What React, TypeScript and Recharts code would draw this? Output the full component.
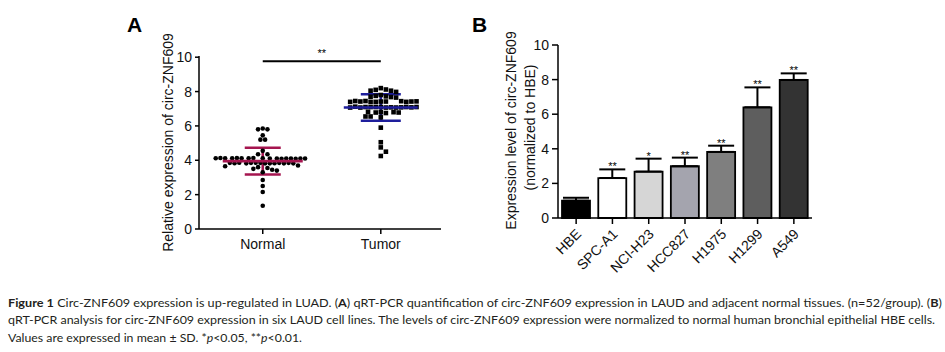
import React from "react";
import {
  ScatterChart,
  ComposedChart,
  Scatter,
  Bar,
  Cell,
  ErrorBar,
  XAxis,
  YAxis,
  ReferenceLine,
} from "recharts";

// ---- Panel A: tissue samples (n=52/group)
const groups = ["Normal", "Tumor"];
const normalValues = [
  5.85, 5.8, 5.8, 5.45, 5.2, 5.2, 4.55, 4.35, 4.35,
  4.12, 4.1, 4.13, 4.1, 4.12, 4.09, 4.12, 4.1, 4.13, 4.1, 4.12, 4.09, 4.12, 4.1, 4.13, 4.1, 4.12,
  3.85, 3.82, 3.86, 3.82, 3.85, 3.83, 3.85, 3.82, 3.86, 3.82, 3.85, 3.83, 3.85, 3.82,
  3.7, 3.3, 3.6, 3.55, 3.5, 3.45, 3.65, 3.4,
  2.85, 2.5, 2.15, 1.35,
];
const tumorValues = [
  8.2, 8.12, 8.1, 8.05, 8.05, 7.98, 7.8, 7.75, 7.72, 7.68, 7.7, 7.65,
  7.42, 7.4, 7.45, 7.42, 7.4, 7.44, 7.42, 7.4, 7.45, 7.42, 7.4, 7.43,
  7.1, 7.07, 7.1, 7.08, 7.1, 7.07, 7.1, 7.08, 7.07, 7.1, 7.12, 7.08, 7.07, 7.1,
  6.8, 6.78, 6.82, 6.75, 6.8, 6.78, 6.55, 6.5, 6.55,
  5.9, 5.05, 4.75, 4.5, 4.25,
];
const groupMeans = [3.95, 7.07];
const groupSDs = [0.78, 0.77];
const sigA = "**";
const sigALevel = 9.77;
const yTicks = [0, 2, 4, 6, 8, 10];

// ---- Panel B: cell lines
const cellLines = ["HBE", "SPC-A1", "NCI-H23", "HCC827", "H1975", "H1299", "A549"];
const cellMeans = [1.0, 2.31, 2.68, 2.99, 3.82, 6.4, 7.98];
const cellSDs = [0.17, 0.5, 0.75, 0.5, 0.36, 1.15, 0.38];
const cellSig = ["", "**", "*", "**", "**", "**", "**"];

const barColors = ["#000000", "#ffffff", "#d6d6d6", "#a4a4ae", "#7f7f7f", "#5e5e5e", "#333333"];
const groupColors = ["#a5154f", "#1e1e9c"];
const meanHalfPx = [40, 37];
const capWidthPx = [18, 20];
const FONT = '"Liberation Sans", Arial, sans-serif';
const CAPTION_FONT = 'Lato, "Open Sans", sans-serif';

// plot scale of panel A (px per data unit) for the swarm layout
const PX_X = 118;
const PX_Y = 17.3;

// column-scatter layout: each point goes to the nearest free slot, balancing sides
function swarm(values: number[], dot: number) {
  const placed: { x: number; y: number }[] = [];
  const step = dot / 2;
  return values.map((v) => {
    const py = v * PX_Y;
    const near = placed.filter((p) => Math.abs(p.y - py) < dot);
    const right = near.filter((p) => p.x > 0).length;
    const left = near.filter((p) => p.x < 0).length;
    const first = right <= left ? 1 : -1;
    for (let k = 0; k < 100; k++) {
      const signs = k === 0 ? [0] : [first, -first];
      for (const sg of signs) {
        const off = sg * k * step;
        if (!placed.some((p) => Math.hypot(p.x - off, p.y - py) < dot)) {
          placed.push({ x: off, y: py });
          return off / PX_X;
        }
      }
    }
    return 0;
  });
}

const normalOff = swarm(normalValues, 4.7);
const tumorOff = swarm(tumorValues, 5.1);
const normalPts = normalValues.map((v, i) => ({ x: 1 + normalOff[i], y: v }));
const tumorPts = tumorValues.map((v, i) => ({ x: 2 + tumorOff[i], y: v }));
const summary = groups.map((g, i) => ({ x: i + 1, y: groupMeans[i], sd: groupSDs[i] }));

const barData = cellLines.map((name, i) => ({
  name,
  mean: cellMeans[i],
  err: [0, cellSDs[i]],
  sigY: cellMeans[i] + cellSDs[i],
  sig: cellSig[i],
}));

const axisTick = { fill: "#111", fontSize: 14, fontFamily: FONT };

const Circle = (p: any) => <circle cx={p.cx} cy={p.cy} r={2.3} fill="#000" />;
const Square = (p: any) => <rect x={p.cx - 2.3} y={p.cy - 2.3} width={4.6} height={4.6} fill="#000" />;
const Stars = (p: any) => (
  <text x={p.cx} y={p.cy + 1} textAnchor="middle" fontSize={11} fontFamily={FONT} fill="#000">
    {p.payload.sig}
  </text>
);
const meanShape = (i: number) => (p: any) => (
  <line x1={p.cx - meanHalfPx[i]} x2={p.cx + meanHalfPx[i]} y1={p.cy} y2={p.cy}
    stroke={groupColors[i]} strokeWidth={2.6} />
);

function PanelA() {
  return (
    <ScatterChart width={360} height={280} margin={{ top: 56, right: 19, left: 0, bottom: 0 }}>
      <XAxis
        type="number"
        dataKey="x"
        domain={[0.46, 2.51]}
        ticks={[1, 2]}
        allowDataOverflow
        tickFormatter={(v) => groups[v - 1]}
        height={51}
        tickSize={5}
        tickMargin={5}
        stroke="#000"
        strokeWidth={1.5}
        tick={axisTick}
      />
      <YAxis
        type="number"
        dataKey="y"
        domain={[0, 10]}
        ticks={yTicks}
        width={99}
        tickSize={4}
        tickMargin={3}
        stroke="#000"
        strokeWidth={1.5}
        tick={axisTick}
        label={(p: any) => {
          const vb = p.viewBox;
          const x = vb.x + 68;
          const y = vb.y + vb.height / 2;
          return (
            <text x={x} y={y} transform={`rotate(-90, ${x}, ${y})`} textAnchor="middle"
              dominantBaseline="central" fontSize={14} fontFamily={FONT} fill="#111">
              Relative expression of circ-ZNF609
            </text>
          );
        }}
      />
      <Scatter data={normalPts} shape={Circle} isAnimationActive={false} />
      <Scatter data={tumorPts} shape={Square} isAnimationActive={false} />
      {summary.map((s, i) => (
        <Scatter key={groups[i]} data={[s]} shape={meanShape(i)} isAnimationActive={false}>
          <ErrorBar dataKey="sd" direction="y" width={capWidthPx[i]} stroke={groupColors[i]} strokeWidth={2.6} />
        </Scatter>
      ))}
      <ReferenceLine segment={[{ x: 1, y: sigALevel }, { x: 2, y: sigALevel }]} stroke="#000" strokeWidth={2} />
      <Scatter data={[{ x: 1.5, y: sigALevel + 0.3, sig: sigA }]} shape={Stars} isAnimationActive={false} />
    </ScatterChart>
  );
}

const RotTick = (p: any) => {
  const x = p.x + 6;
  const y = p.y + 9;
  return (
    <text x={x} y={y} transform={`rotate(-45, ${x}, ${y})`} textAnchor="end" fontSize={14}
      fontFamily={FONT} fill="#111">
      {p.payload.value}
    </text>
  );
};

function PanelB() {
  return (
    <ComposedChart width={360} height={290} data={barData} margin={{ top: 45, right: 18, left: 0, bottom: 0 }}>
      <XAxis dataKey="name" type="category" height={72} tickSize={6} tickMargin={2} interval={0}
        stroke="#000" strokeWidth={1.5} tick={<RotTick />} />
      <YAxis
        type="number"
        domain={[0, 10]}
        ticks={yTicks}
        width={88}
        tickSize={6}
        tickMargin={3}
        stroke="#000"
        strokeWidth={1.5}
        tick={axisTick}
        label={(p: any) => {
          const vb = p.viewBox;
          const y = vb.y + vb.height / 2;
          const x1 = vb.x + 41;
          const x2 = vb.x + 60;
          return (
            <g>
              <text x={x1} y={y - 1} transform={`rotate(-90, ${x1}, ${y - 1})`} textAnchor="middle"
                dominantBaseline="central" fontSize={14} fontFamily={FONT} fill="#111">
                Expression level of circ-ZNF609
              </text>
              <text x={x2} y={y - 4} transform={`rotate(-90, ${x2}, ${y - 4})`} textAnchor="middle"
                dominantBaseline="central" fontSize={14} fontFamily={FONT} fill="#111">
                (normalized to HBE)
              </text>
            </g>
          );
        }}
      />
      <Bar dataKey="mean" barSize={28} stroke="#000" strokeWidth={1.8} isAnimationActive={false}>
        {barData.map((d, i) => (
          <Cell key={d.name} fill={barColors[i]} />
        ))}
        <ErrorBar dataKey="err" width={13} strokeWidth={2} stroke="#000" direction="y" />
      </Bar>
      <Scatter dataKey="sigY" shape={Stars} isAnimationActive={false} />
    </ComposedChart>
  );
}

export default function App() {
  return (
    <div style={{ position: "absolute", left: 0, top: 0, width: 945, height: 352, background: "#fff", overflow: "hidden" }}>
      <div style={{ position: "absolute", left: 127, top: 13, fontFamily: FONT, fontWeight: "bold", fontSize: 21 }}>A</div>
      <div style={{ position: "absolute", left: 472, top: 13, fontFamily: FONT, fontWeight: "bold", fontSize: 21 }}>B</div>
      <div style={{ position: "absolute", left: 100, top: 0 }}>
        <PanelA />
      </div>
      <div style={{ position: "absolute", left: 470, top: 0 }}>
        <PanelB />
      </div>
      <svg style={{ position: "absolute", left: 0, top: 288 }} width={945} height={64}>
        <g fontFamily={CAPTION_FONT} fontSize={12} fill="#231f20">
          <text x={8} y={19} textLength={934} lengthAdjust="spacingAndGlyphs">
            <tspan fontWeight="bold">Figure 1</tspan> Circ-ZNF609 expression is up-regulated in LUAD. (<tspan fontWeight="bold">A</tspan>) qRT-PCR quantification of circ-ZNF609 expression in LAUD and adjacent normal tissues. (n=52/group). (<tspan fontWeight="bold">B</tspan>)
          </text>
          <text x={8} y={36} textLength={927} lengthAdjust="spacingAndGlyphs">
            qRT-PCR analysis for circ-ZNF609 expression in six LAUD cell lines. The levels of circ-ZNF609 expression were normalized to normal human bronchial epithelial HBE cells.
          </text>
          <text x={8} y={54} textLength={294} lengthAdjust="spacingAndGlyphs">
            Values are expressed in mean ± SD. *<tspan fontStyle="italic">p</tspan>&lt;0.05, **<tspan fontStyle="italic">p</tspan>&lt;0.01.
          </text>
        </g>
      </svg>
    </div>
  );
}
